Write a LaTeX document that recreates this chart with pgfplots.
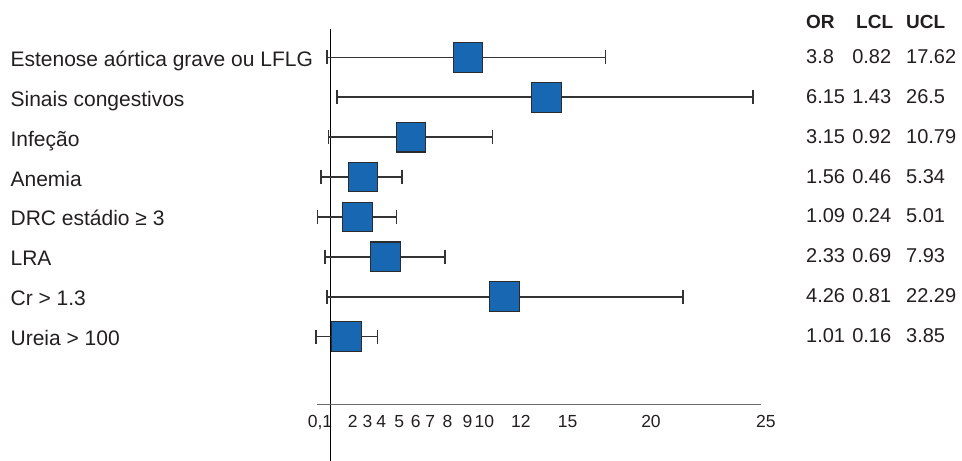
\documentclass[border=0pt]{standalone}
\usepackage{fontspec}
\setmainfont{Liberation Sans}
\usepackage{pgfplots}
\usepackage{pgfplotstable}
\pgfplotsset{compat=1.18}

\definecolor{boxblue}{HTML}{1767B3}
\definecolor{edge}{HTML}{2B2B2B}
\definecolor{whisk}{HTML}{333333}
\definecolor{axgray}{HTML}{6A6A6A}
\definecolor{txt}{HTML}{231F20}

% odds ratios with 95% limits; pos is where the square is drawn
\pgfplotstableread{
row OR   LCL  UCL   pos
1   3.8  0.82 17.62 9.32
2   6.15 1.43 26.5  14.05
3   3.15 0.92 10.79 5.88
4   1.56 0.46 5.34  2.99
5   1.09 0.24 5.01  2.66
6   2.33 0.69 7.93  4.33
7   4.26 0.81 22.29 11.53
8   1.01 0.16 3.85  2.00
}\ortable

\newcommand{\colfont}{\fontsize{20bp}{24bp}\selectfont}

\begin{document}
\begin{tikzpicture}[x=1bp,y=1bp]
\useasboundingbox (0,0) rectangle (962,461);
\begin{axis}[
  at={(313.4bp,56.3bp)}, anchor=south west,
  scale only axis, width=464.5bp, height=375.7bp,
  xmin=0, xmax=28, ymin=0.291, ymax=9.704, y dir=reverse,
  axis line style={draw=none}, clip=false,
  major tick length=0pt,
  xtick={0.4,2.375,3.26,4.09,5.17,6.17,7.04,8.08,9.29,10.3,12.51,15.32,20.35,27.28},
  xticklabels={{0,1},2,3,4,5,6,7,8,9,10,12,15,20,25},
  xticklabel style={anchor=base, yshift=-23bp, inner sep=0pt,
    font=\fontsize{17.5bp}{20bp}\selectfont, text=txt},
  ytick={1,...,8},
  yticklabels={Estenose aórtica grave ou LFLG, Sinais congestivos, Infeção,
    Anemia, DRC estádio ≥ 3, LRA, Cr > 1.3, Ureia > 100},
  yticklabel style={anchor=base west, xshift=-303bp, yshift=-9bp, inner sep=0pt,
    font=\fontsize{21bp}{25bp}\selectfont, text=txt},
]
% reference line at 1 and the scale line
\draw[black, line width=1.5bp] (axis cs:1.04,0.291) -- (axis cs:1.04,11.114);
\draw[axgray, line width=1.4bp] (axis cs:0.2,9.704) -- (axis cs:26.96,9.704);

% confidence intervals, from LCL to UCL around each square
\addplot [only marks, mark=none,
  error bars/.cd, x dir=both, x explicit, error mark=|,
  error bar style={whisk, line width=1.5bp},
  error mark options={whisk, line width=1.5bp, mark size=7bp}]
  table [x=pos, y=row, x error plus expr=\thisrow{UCL}-\thisrow{pos},
         x error minus expr=\thisrow{pos}-\thisrow{LCL}] {\ortable};

% odds ratio squares
\addplot [only marks, mark=square*, mark size=14.85bp,
  mark options={fill=boxblue, draw=edge, line width=1.1bp}]
  table [x=pos, y=row] {\ortable};

% value columns on the right
\addplot [only marks, mark=none, point meta=explicit symbolic, nodes near coords,
  nodes near coords style={anchor=base west, inner sep=0pt, yshift=-6bp,
    font=\colfont, text=txt}]
  table [x expr=29.69, y=row, meta=OR] {\ortable};
\addplot [only marks, mark=none, point meta=explicit symbolic, nodes near coords,
  nodes near coords style={anchor=base west, inner sep=0pt, yshift=-6bp,
    font=\colfont, text=txt}]
  table [x expr=32.47, y=row, meta=LCL] {\ortable};
\addplot [only marks, mark=none, point meta=explicit symbolic, nodes near coords,
  nodes near coords style={anchor=base west, inner sep=0pt, yshift=-6bp,
    font=\colfont, text=txt}]
  table [x expr=35.72, y=row, meta=UCL] {\ortable};
\end{axis}
% column headings
\begin{scope}[every node/.style={anchor=base west, inner sep=0pt,
    font=\bfseries\fontsize{19bp}{23bp}\selectfont, text=txt}]
\node at (806,432.7) {OR};
\node at (856,432.7) {LCL};
\node at (906,432.7) {UCL};
\end{scope}
\end{tikzpicture}
\end{document}
